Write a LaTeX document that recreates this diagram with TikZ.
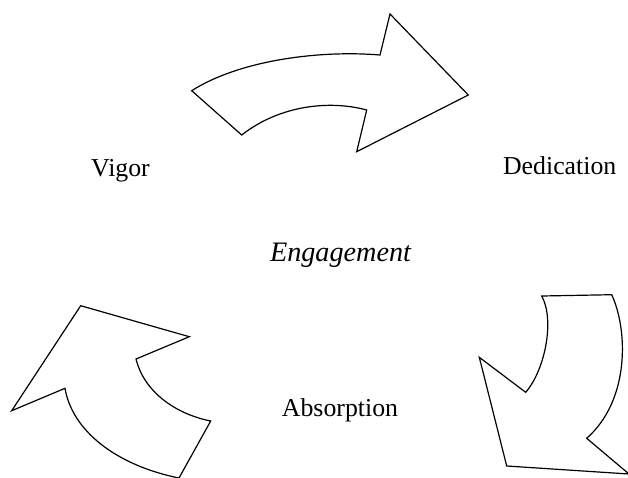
\documentclass[tikz,border=0pt]{standalone}
\usepackage{fontspec}
\setmainfont{Liberation Serif}
\begin{document}
\begin{tikzpicture}[x=1pt,y=-1pt,
  bigarrow/.style={draw=black,line width=1.2pt,line join=miter,fill=white},
  lbl/.style={anchor=base,inner sep=0pt,font=\fontsize{25.8}{30}\selectfont}]
\useasboundingbox (0,0) rectangle (628,477);
\clip (0,0) rectangle (628,477);
% top arrow
\draw[bigarrow] (191.7,90.7) .. controls (240,60) and (320,50) .. (380,55)
  -- (390,14) -- (468.3,95) -- (356.7,151.7) -- (366.7,110)
  .. controls (330,100) and (280,105) .. (241.7,135) -- cycle;
% right arrow
\draw[bigarrow] (541.7,296) -- (611.7,294.7)
  .. controls (628,330) and (630,400) .. (586.7,438.3)
  -- (629,474) -- (506.7,466) -- (479.3,357.3) -- (525.7,392.3)
  .. controls (545,370) and (555,320) .. cycle;
% left arrow
\draw[bigarrow] (80.7,305.7) -- (189.3,336.7) -- (136,359)
  .. controls (145,395) and (180,415) .. (210.7,421)
  -- (179,478) .. controls (115,465) and (72,430) .. (65,388.3)
  -- (11.7,410.7) -- cycle;
\node[lbl] (vigor) at (120.5,176.7) {Vigor};
\node[lbl] (dedication) at (559.7,174.3) {Dedication};
\node[lbl,font=\fontsize{28.2}{32}\selectfont\itshape] (engagement) at (340.5,261.7) {Engagement};
\node[lbl] (absorption) at (340,416) {Absorption};
\end{tikzpicture}
\end{document}
